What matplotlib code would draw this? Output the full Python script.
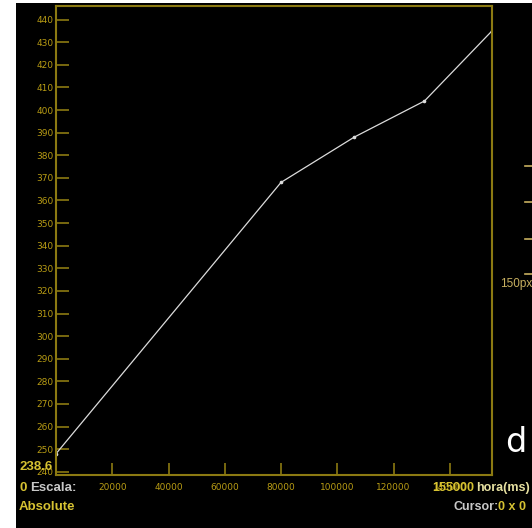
import matplotlib
matplotlib.use("Agg")
import matplotlib.pyplot as plt
from matplotlib.patches import Rectangle

# readings of the curve (time in ms, value)
t_ms = [0, 80000, 106000, 131000, 155000]
values = [248, 368, 388, 404, 435]

x_ticks = [20000, 40000, 60000, 80000, 100000, 120000, 140000]
y_ticks = list(range(240, 450, 10))

W, H = 532, 528
axis_col = "#8c7a12"
label_col = "#b89c14"
bright = "#d6c232"
grey = "#c8c8c8"

fig = plt.figure(figsize=(W / 100, H / 100), dpi=100, facecolor="white")
fig.patches.append(Rectangle((16 / W, 0), 1 - 16 / W, 1 - 3 / H, transform=fig.transFigure,
                             facecolor="black", edgecolor="none", zorder=-10))

ax = fig.add_axes([56 / W, 53 / H, 436 / W, 469 / H])
ax.set_facecolor("black")
ax.plot(t_ms, values, color="#dcdcdc", lw=0.9, marker="o", ms=1.6)
ax.set_xlim(0, 155000)
ax.set_ylim(238.6, 446)
ax.set_xticks(x_ticks)
ax.set_yticks(y_ticks)
ax.set_xticklabels([str(v) for v in x_ticks])
ax.set_yticklabels([str(v) for v in y_ticks])
ax.tick_params(direction="in", length=9, width=1.2, color=axis_col,
               labelcolor=label_col, labelsize=6.5)
ax.tick_params(axis="x", pad=6)
ax.tick_params(axis="y", pad=2)
for s in ax.spines.values():
    s.set_color(axis_col)
    s.set_linewidth(1.5)

def ftxt(x, y, s, size=9.5, family="Liberation Sans", **kw):
    fig.text(x / W, 1 - y / H, s, va="center", family=family, fontsize=size, **kw)

ftxt(19, 467, "238.6", color=bright, weight="bold")
ftxt(19, 488, "0", color=bright, weight="bold")
ftxt(30, 488, "Escala:", color=grey, weight="bold")
ftxt(19, 507, "Absolute", color=bright, weight="bold")
ftxt(432, 488, "155000", color=bright, size=9, weight="bold")
ftxt(476, 488, "hora(ms)", color="#e6e0a0", size=9, weight="bold")
ftxt(454, 507, "Cursor:", color=grey, size=9, weight="bold")
ftxt(498, 507, "0 x 0", color=bright, size=9, weight="bold")

# right side remnants of the screen
for yy in [166, 202, 239, 274]:
    fig.add_artist(plt.Line2D([525 / W, 1], [1 - yy / H] * 2, color="#c8b060", lw=1.2))
ftxt(500, 284, "150px", color="#c8b060", size=8.5)
ftxt(505, 442, "d", color="white", size=24, family="DejaVu Sans")

fig.savefig("out.png", dpi=100, facecolor=fig.get_facecolor())
